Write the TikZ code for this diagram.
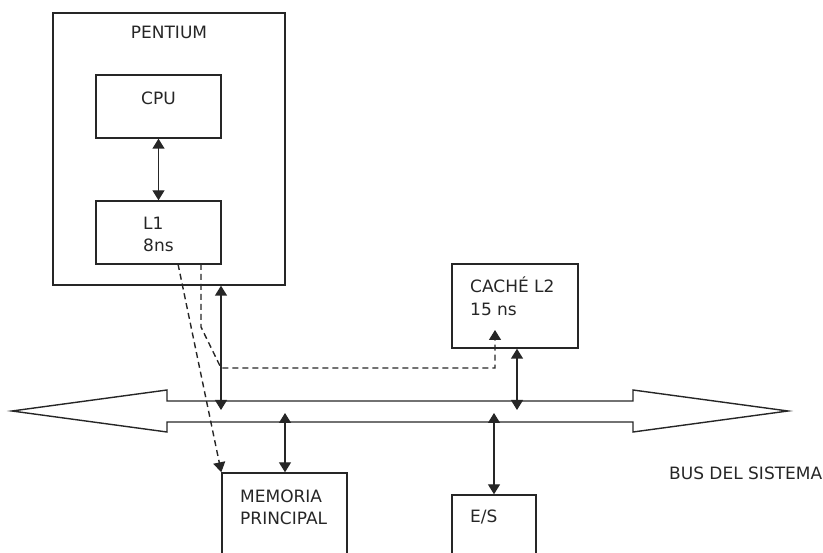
\documentclass[tikz,border=0pt]{standalone}
\usepackage{fontspec}
\setmainfont{DejaVu Sans}
\usetikzlibrary{arrows.meta}
\begin{document}
\begin{tikzpicture}[x=1pt,y=-1pt,
  ln/.style={draw=black!85,line width=1.4pt},
  box/.style={ln,rectangle,inner sep=0pt},
  txt/.style={inner sep=0pt,anchor=base west,font=\fontsize{17}{20}\selectfont,text=black!85},
  ctxt/.style={inner sep=0pt,anchor=base,font=\fontsize{17}{20}\selectfont,text=black!85},
  tip/.style={Triangle[length=10pt,width=12pt]},
  dbl/.style={ln,{Triangle[length=10pt,width=12pt]}-{Triangle[length=10pt,width=12pt]}},
  dsh/.style={ln,dash pattern=on 6pt off 4pt,-{Triangle[length=10pt,width=12pt]}}]
\useasboundingbox (0,0) rectangle (823,553);
\clip (0,0) rectangle (823,553);
% boxes
\node[box,minimum width=232pt,minimum height=272pt] (pent) at (169,149) {};
\node[box,minimum width=125pt,minimum height=63pt] (cpu) at (158.5,106.5) {};
\node[box,minimum width=125pt,minimum height=63pt] (l1) at (158.5,232.5) {};
\node[box,minimum width=126pt,minimum height=84pt] (l2) at (515,306) {};
\node[box,minimum width=125pt,minimum height=87pt] (mem) at (284.5,516.5) {};
\node[box,minimum width=84pt,minimum height=65pt] (es) at (494,527.5) {};
% texts
\node[ctxt] (tpent) at (169,39) {PENTIUM};
\node[ctxt] (tcpu) at (158.5,105) {CPU};
\node[txt] (tl1a) at (143,230) {L1};
\node[txt] (tl1b) at (143,252) {8ns};
\node[txt] (tl2a) at (470,293) {CACHÉ L2};
\node[txt] (tl2b) at (470,316) {15 ns};
\node[txt] (tmema) at (240,503) {MEMORIA};
\node[txt] (tmemb) at (240,525) {PRINCIPAL};
\node[txt] (tes) at (470,523) {E/S};
\node[txt] (tbus) at (669,480) {BUS DEL SISTEMA};
% bus
\draw[ln,line join=miter] (12,411) -- (167,390) -- (167,401) -- (633,401) -- (633,390)
  -- (788,411) -- (633,432) -- (633,422) -- (167,422) -- (167,432) -- cycle;
% bus tap points
\coordinate (bp) at (221,410);
\coordinate (bl2) at (517,410);
\coordinate (bm) at (285,413);
\coordinate (bes) at (494,413);
% solid connectors
\draw[dbl] (cpu.south) -- (l1.north);
\draw[dbl] (pent.south -| bp) -- (bp);
\draw[dbl] (l2.south -| bl2) -- (bl2);
\draw[dbl] (bm) -- (mem.north -| bm);
\draw[dbl] (bes) -- (es.north);
% dashed paths
\coordinate (d1) at (178,264);
\draw[dsh] (d1) -- (mem.north west);
\coordinate (d2) at (201,264);
\coordinate (d2a) at (201,327);
\coordinate (d2b) at (221,368);
\coordinate (d2c) at (495,368);
\coordinate (d2t) at (495,330);
\draw[dsh] (d2) -- (d2a) -- (d2b) -- (d2c) -- (d2t);
\end{tikzpicture}
\end{document}
